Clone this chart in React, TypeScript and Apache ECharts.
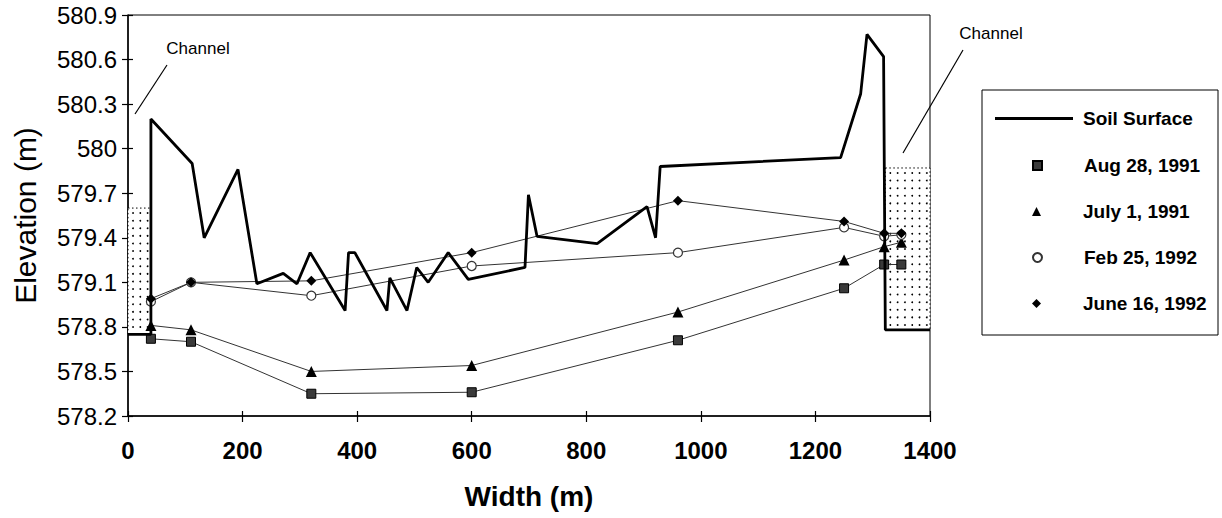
import React, { useEffect, useRef } from "react";
import * as echarts from "echarts";

// ---- data ----
const widthTicks = [0, 200, 400, 600, 800, 1000, 1200, 1400];
const elevTicks = [578.2, 578.5, 578.8, 579.1, 579.4, 579.7, 580, 580.3, 580.6, 580.9];

const soilX = [0, 40, 40, 112, 133, 192, 225, 271, 295, 318, 379, 385, 396, 452, 457, 487, 504, 524, 559, 594, 693, 699, 714, 819, 906, 921, 929, 1244, 1279, 1290, 1319, 1322, 1400];
const soilY = [578.75, 578.75, 580.2, 579.9, 579.4, 579.86, 579.09, 579.16, 579.09, 579.3, 578.91, 579.3, 579.3, 578.91, 579.13, 578.91, 579.2, 579.1, 579.3, 579.12, 579.2, 579.69, 579.41, 579.36, 579.61, 579.4, 579.88, 579.94, 580.37, 580.77, 580.62, 578.78, 578.78];

const wellX = [40, 110, 320, 600, 960, 1250, 1320, 1350];
const aug1991 = [578.72, 578.7, 578.35, 578.36, 578.71, 579.06, 579.22, 579.22];
const jul1991 = [578.81, 578.78, 578.5, 578.54, 578.9, 579.25, 579.34, 579.37];
const feb1992 = [578.97, 579.1, 579.01, 579.21, 579.3, 579.47, 579.41, 579.42];
const jun1992 = [578.99, 579.1, 579.11, 579.3, 579.65, 579.51, 579.43, 579.43];

// channel boxes: [xStart, xEnd, yBottom, yTop]
const channels = [
  [0, 40, 578.75, 579.6],
  [1322, 1400, 578.78, 579.87],
];

const seriesNames = ["Soil Surface", "Aug 28, 1991", "July 1, 1991", "Feb 25, 1992", "June 16, 1992"];

const FONT = "'Liberation Sans', Arial, sans-serif";

const pair = (xs: number[], ys: number[]) => xs.map((x, i) => [x, ys[i]]);

export default function App() {
  const ref = useRef<HTMLDivElement>(null);
  useEffect(() => {
    if (!ref.current) return;
    const chart = echarts.init(ref.current, null, { renderer: "svg" });
    const lineSeries = (name: string, ys: number[], symbol: string, size: number, item: any) => ({
      name,
      type: "line",
      data: pair(wellX, ys),
      symbol,
      symbolSize: size,
      lineStyle: { color: "#333", width: 1 },
      itemStyle: item,
      z: 4,
    });
    const legendItem = (name: string, top: number, icon: string) => ({
      data: [{ name, icon }],
      left: 1032,
      top,
      padding: 0,
      itemWidth: 9,
      itemHeight: 9,
      selectedMode: false,
      textStyle: { fontFamily: FONT, fontSize: 19, fontWeight: "bold", color: "#000", padding: [0, 0, 0, 37] },
    });
    const option: any = {
      animation: false,
      grid: { left: 128, right: 292, top: 15, bottom: 102, show: true, borderColor: "#000", borderWidth: 1, backgroundColor: "transparent" },
      xAxis: [
        {
          type: "value",
          min: widthTicks[0],
          max: widthTicks[widthTicks.length - 1],
          interval: 200,
          name: "Width (m)",
          nameLocation: "middle",
          nameGap: 66,
          nameTextStyle: { fontFamily: FONT, fontSize: 28, fontWeight: "bold", color: "#000" },
          axisLine: { lineStyle: { color: "#000", width: 1.5 } },
          axisTick: { length: 6, lineStyle: { color: "#000", width: 1.2 } },
          axisLabel: { margin: 22, fontFamily: FONT, fontSize: 24, fontWeight: "bold", color: "#000", formatter: (v: number) => String(v) },
          splitLine: { show: false },
        },
        {
          type: "value",
          min: widthTicks[0],
          max: widthTicks[widthTicks.length - 1],
          interval: 200,
          position: "bottom",
          axisLine: { show: false },
          axisTick: { inside: true, length: 5, lineStyle: { color: "#000", width: 1.2 } },
          axisLabel: { show: false },
          splitLine: { show: false },
        },
      ],
      yAxis: [
        {
          type: "value",
          min: elevTicks[0],
          max: elevTicks[elevTicks.length - 1],
          name: "Elevation (m)",
          nameLocation: "middle",
          nameGap: 88,
          nameTextStyle: { fontFamily: FONT, fontSize: 30, color: "#000" },
          axisLine: { show: true, lineStyle: { color: "#000", width: 1.5 } },
          axisTick: { show: true, length: 6, customValues: elevTicks, lineStyle: { color: "#000", width: 1.2 } },
          axisLabel: {
            margin: 11,
            customValues: elevTicks,
            fontFamily: FONT,
            fontSize: 24,
            color: "#000",
            formatter: (v: number) => String(Number(v.toFixed(1))),
          },
          splitLine: { show: false },
        },
        {
          type: "value",
          min: elevTicks[0],
          max: elevTicks[elevTicks.length - 1],
          position: "left",
          axisLine: { show: false },
          axisTick: { show: true, inside: true, length: 5, customValues: elevTicks, lineStyle: { color: "#000", width: 1.2 } },
          axisLabel: { show: false },
          splitLine: { show: false },
        },
      ],
      legend: [
        {
          data: [{ name: "Soil Surface", icon: "path://M0,0 H78 V3 H0 Z" }],
          left: 995,
          top: 109,
          padding: 0,
          itemWidth: 78,
          itemHeight: 3,
          selectedMode: false,
          textStyle: { fontFamily: FONT, fontSize: 19, fontWeight: "bold", color: "#000", padding: [0, 0, 0, 5] },
        },
        legendItem(seriesNames[1], 156, "rect"),
        legendItem(seriesNames[2], 202, "triangle"),
        legendItem(seriesNames[3], 248, "circle"),
        legendItem(seriesNames[4], 294, "diamond"),
      ],
      graphic: [
        { type: "rect", shape: { x: 982, y: 90, width: 236, height: 245 }, style: { fill: "none", stroke: "#000", lineWidth: 1 }, z: 0 },
        { type: "text", x: 198, y: 48, style: { text: "Channel", font: `17px ${FONT}`, fill: "#000", align: "center", verticalAlign: "middle" } },
        { type: "line", shape: { x1: 167, y1: 65, x2: 135, y2: 114 }, style: { stroke: "#000", lineWidth: 1.2 } },
        { type: "text", x: 991, y: 33, style: { text: "Channel", font: `17px ${FONT}`, fill: "#000", align: "center", verticalAlign: "middle" } },
        { type: "line", shape: { x1: 963, y1: 50, x2: 903, y2: 153 }, style: { stroke: "#000", lineWidth: 1.2 } },
      ],
      series: [
        {
          type: "custom",
          name: "channel",
          data: channels,
          encode: { x: [0, 1], y: [2, 3] },
          z: 1,
          silent: true,
          renderItem: (params: any, api: any) => {
            const p0 = api.coord([api.value(0), api.value(3)]);
            const p1 = api.coord([api.value(1), api.value(2)]);
            const children: any[] = [
              {
                type: "rect",
                shape: { x: p0[0], y: p0[1], width: p1[0] - p0[0], height: p1[1] - p0[1] },
                style: { fill: "#fff", stroke: "#000", lineWidth: 1, lineDash: [1.5, 2.5] },
              },
            ];
            for (let yy = p0[1] + 5; yy < p1[1] - 2; yy += 7.6) {
              for (let xx = p0[0] + 5; xx < p1[0] - 2; xx += 7.3) {
                children.push({ type: "circle", shape: { cx: xx, cy: yy, r: 0.9 }, style: { fill: "#000" } });
              }
            }
            return { type: "group", children };
          },
        },
        {
          name: seriesNames[0],
          type: "line",
          data: pair(soilX, soilY),
          symbol: "none",
          lineStyle: { color: "#000", width: 2.8 },
          itemStyle: { color: "#000" },
          z: 5,
        },
        lineSeries(seriesNames[1], aug1991, "rect", 9, { color: "#3a3a3a", borderColor: "#000", borderWidth: 1 }),
        lineSeries(seriesNames[2], jul1991, "triangle", 11, { color: "#000" }),
        lineSeries(seriesNames[3], feb1992, "circle", 9, { color: "#fff", borderColor: "#333", borderWidth: 1.2 }),
        lineSeries(seriesNames[4], jun1992, "diamond", 10, { color: "#000" }),
      ],
    };
    chart.setOption(option);
    return () => chart.dispose();
  }, []);
  return <div ref={ref} style={{ position: "fixed", left: 0, top: 0, width: 1222, height: 518, background: "#fff" }} />;
}
